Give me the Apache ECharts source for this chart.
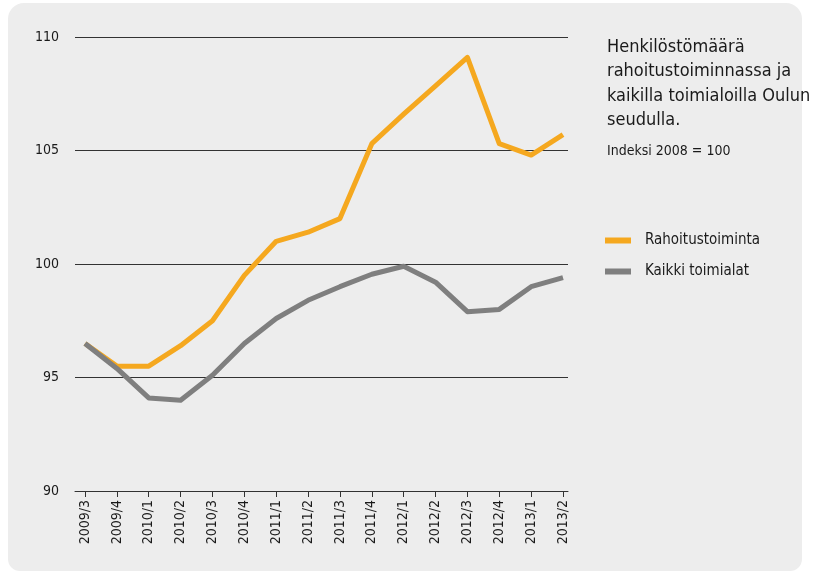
<!DOCTYPE html>
<html>
<head>
<meta charset="utf-8">
<title>Henkilöstömäärä</title>
<script src="https://cdn.jsdelivr.net/npm/echarts@6/dist/echarts.min.js"></script>
<style>
  html, body { margin: 0; padding: 0; background: #fff; }
  #chart { width: 818px; height: 571px; }
</style>
</head>
<body>
<div id="chart"></div>
<script>
// neljännekset
var quarters = ["2009/3", "2009/4", "2010/1", "2010/2", "2010/3", "2010/4",
  "2011/1", "2011/2", "2011/3", "2011/4", "2012/1", "2012/2", "2012/3",
  "2012/4", "2013/1", "2013/2"];
var rahoitus = [96.5, 95.5, 95.5, 96.4, 97.5, 99.5, 101.0, 101.4, 102.0,
  105.3, 106.6, 107.85, 109.1, 105.3, 104.8, 105.7];
var kaikki = [96.5, 95.4, 94.1, 94.0, 95.1, 96.5, 97.6, 98.4, 99.0,
  99.55, 99.9, 99.2, 97.9, 98.0, 99.0, 99.4];
var yTicks = [90, 95, 100, 105, 110];

var font = "'Liberation Sans Narrow', 'DejaVu Sans Condensed', sans-serif";
var idx = quarters.map(function (q, i) { return i; });

function pairs(arr) {
  return arr.map(function (v, i) { return [i, v]; });
}

var chart = echarts.init(document.getElementById("chart"));
chart.setOption({
  backgroundColor: "#fff",
  animation: false,
  textStyle: { fontFamily: font },
  graphic: [{
    type: "rect",
    z: -10,
    silent: true,
    shape: { x: 8, y: 3, width: 794, height: 568, r: [16, 16, 12, 12] },
    style: { fill: "#ededed" }
  }],
  title: {
    text: "Henkilöstömäärä\nrahoitustoiminnassa ja\nkaikilla toimialoilla Oulun\nseudulla.",
    subtext: "Indeksi 2008 = 100",
    left: 602,
    top: 30,
    itemGap: 11,
    textStyle: { fontFamily: font, fontSize: 18, fontWeight: "normal", color: "#1a1a1a", lineHeight: 24.5 },
    subtextStyle: { fontFamily: font, fontSize: 14, color: "#1a1a1a" }
  },
  legend: {
    orient: "vertical",
    left: 605,
    top: 233,
    padding: 0,
    icon: "rect",
    itemWidth: 26,
    itemHeight: 6,
    itemGap: 16,
    textStyle: { fontFamily: font, fontSize: 15, color: "#1a1a1a", padding: [0, 0, 0, 9] },
    data: ["Rahoitustoiminta", "Kaikki toimialat"]
  },
  grid: { left: 75, right: 250, top: 37, bottom: 80 },
  xAxis: {
    type: "value",
    min: -0.314,
    max: 15.157,
    splitLine: { show: false },
    axisLine: { onZero: false, lineStyle: { color: "#333", width: 1 } },
    axisTick: { customValues: idx, length: 6, lineStyle: { color: "#333" } },
    axisLabel: {
      customValues: idx,
      rotate: 90,
      margin: 9,
      fontFamily: font,
      fontSize: 14,
      color: "#1a1a1a",
      formatter: function (v) { return quarters[Math.round(v)]; }
    }
  },
  yAxis: {
    type: "value",
    min: yTicks[0],
    max: yTicks[yTicks.length - 1],
    interval: 5,
    axisLine: { show: false },
    axisTick: { show: false },
    axisLabel: { margin: 16, fontFamily: font, fontSize: 14, color: "#1a1a1a" },
    splitLine: { lineStyle: { color: "#333", width: 1 } }
  },
  series: [
    {
      name: "Rahoitustoiminta",
      type: "line",
      data: pairs(rahoitus),
      showSymbol: false,
      color: "#f5a81f",
      lineStyle: { width: 5, color: "#f5a81f", join: "round" },
      z: 3
    },
    {
      name: "Kaikki toimialat",
      type: "line",
      data: pairs(kaikki),
      showSymbol: false,
      color: "#7f7f7f",
      lineStyle: { width: 5, color: "#7f7f7f", join: "round" },
      z: 4
    }
  ]
});
</script>
</body>
</html>
